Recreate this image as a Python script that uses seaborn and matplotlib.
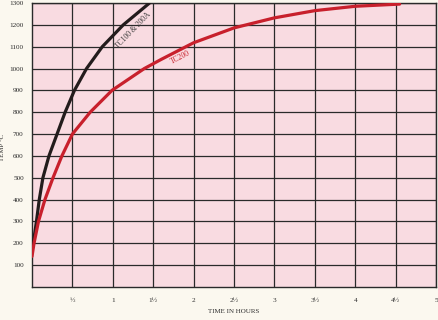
import matplotlib
matplotlib.use("Agg")
import matplotlib.pyplot as plt
import seaborn as sns
import pandas as pd

# Data
tc100_hours = [0.01, 0.055, 0.09, 0.135, 0.21, 0.31, 0.41, 0.525, 0.675, 0.87, 1.13, 1.455]
tc100_temp = [185, 300, 400, 500, 600, 700, 800, 900, 1000, 1100, 1200, 1300]

tc200_hours = [0.0, 0.025, 0.08, 0.16, 0.26, 0.37, 0.5, 0.72, 0.99, 1.39, 1.6, 2.0, 2.5, 3.0, 3.5, 4.0, 4.55]
tc200_temp = [140, 200, 300, 400, 500, 600, 700, 800, 900, 1000, 1042, 1118, 1186, 1232, 1265, 1285, 1295]

series_names = ["TC100 & 200A", "TC200"]
x_ticks = [0.5, 1, 1.5, 2, 2.5, 3, 3.5, 4, 4.5, 5]
x_tick_labels = ["½", "1", "1½", "2", "2½", "3", "3½", "4", "4½", "5"]
y_ticks = [100, 200, 300, 400, 500, 600, 700, 800, 900, 1000, 1100, 1200, 1300]

df = pd.concat([
    pd.DataFrame({"hours": tc100_hours, "temp": tc100_temp, "series": series_names[0]}),
    pd.DataFrame({"hours": tc200_hours, "temp": tc200_temp, "series": series_names[1]}),
])

sns.set_style("white")
plt.rcParams["font.family"] = ["Liberation Serif", "DejaVu Serif"]

fig = plt.figure(figsize=(4.38, 3.2), dpi=100, facecolor="#fbf8ef")
ax = fig.add_axes([32 / 438, 33 / 320, 404 / 438, 284 / 320])
ax.set_facecolor("#f9dbe1")

palette = {series_names[0]: "#231c1c", series_names[1]: "#c8202c"}
sns.lineplot(data=df, x="hours", y="temp", hue="series", palette=palette,
             estimator=None, sort=True, linewidth=2.3, legend=False, ax=ax, zorder=3)
for line in ax.get_lines():
    line.set_solid_joinstyle("round")
    line.set_solid_capstyle("round")

ax.set_xlim(0, 5)
ax.set_ylim(0, 1300)
ax.set_xticks(x_ticks)
ax.set_xticklabels(x_tick_labels)
ax.set_yticks(y_ticks)
ax.tick_params(axis="both", length=0, labelsize=5.2, colors="#2e2e2e")
ax.tick_params(axis="x", pad=8)
ax.tick_params(axis="y", pad=6)

ax.grid(True, color="#2a2a2a", linewidth=0.9)
ax.set_axisbelow(True)
for s in ax.spines.values():
    s.set_visible(True)
    s.set_color("#2a2a2a")
    s.set_linewidth(1.0)

ax.set_xlabel("TIME IN HOURS", fontsize=5, color="#2e2e2e")
ax.set_ylabel("TEMP °C", fontsize=5, color="#2e2e2e")
ax.xaxis.set_label_coords(0.5, -0.078)
ax.yaxis.set_label_coords(-0.066, 0.49)

ax.text(1.25, 1172, series_names[0], rotation=46, fontsize=5.5, color="#3a3a3a",
        ha="center", va="center")
ax.text(1.84, 1050, series_names[1], rotation=27, fontsize=5.5, color="#c8202c",
        ha="center", va="center")

fig.savefig("out.png", dpi=100, facecolor=fig.get_facecolor())
